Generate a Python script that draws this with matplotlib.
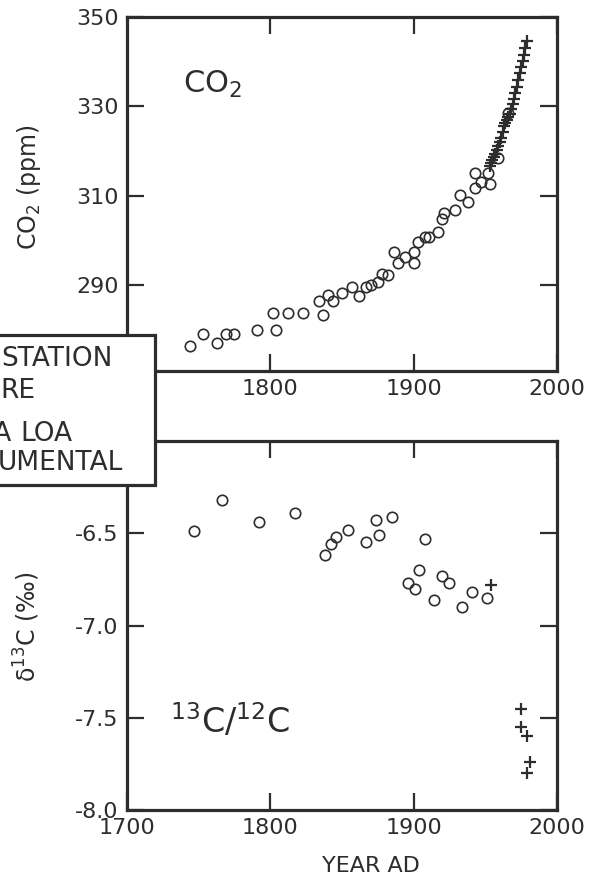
import matplotlib
matplotlib.use("Agg")
import matplotlib.pyplot as plt
from matplotlib.patches import Rectangle

# ---- data ----
# Siple Station ice core, CO2
ice_year = [1744, 1753, 1763, 1769, 1775, 1791, 1804, 1802, 1812, 1823,
            1834, 1837, 1840, 1844, 1850, 1857, 1862, 1867, 1870, 1875,
            1878, 1882, 1886, 1889, 1894, 1900, 1900, 1903, 1908, 1911,
            1917, 1920, 1921, 1929, 1932, 1938, 1943, 1943, 1947, 1952,
            1953, 1959, 1966]
ice_co2 = [276.4, 279.1, 277.0, 278.9, 279.1, 279.8, 279.8, 283.8, 283.7, 283.8,
           286.3, 283.3, 287.8, 286.3, 288.2, 289.6, 287.4, 289.6, 290.0, 290.7,
           292.4, 292.3, 297.4, 294.8, 296.3, 297.4, 294.8, 299.6, 300.7, 300.7,
           301.8, 304.8, 306.1, 306.7, 310.2, 308.5, 311.8, 315.0, 313.0, 315.0,
           312.6, 318.5, 328.5]

# Mauna Loa instrumental, CO2
ml_year = [1953, 1954, 1955, 1956, 1957, 1958, 1959, 1960, 1961, 1962,
           1963, 1964, 1965, 1966, 1967, 1968, 1969, 1970, 1971, 1972,
           1973, 1974, 1975, 1976, 1977, 1978, 1979]
ml_co2 = [316.6, 317.3, 318.0, 318.7, 319.4, 320.2, 321.0, 322.0, 323.0, 324.3,
          325.5, 326.3, 327.0, 327.7, 328.3, 329.5, 330.6, 331.6, 333.0, 334.4,
          335.9, 337.4, 338.9, 340.1, 341.4, 343.0, 344.6]

# Siple Station ice core, d13C
ice13_year = [1747, 1766, 1792, 1817, 1838, 1842, 1846, 1854, 1867, 1874,
              1876, 1885, 1908, 1896, 1901, 1904, 1914, 1920, 1925, 1934,
              1941, 1951]
ice13_d13 = [-6.49, -6.32, -6.44, -6.39, -6.62, -6.56, -6.52, -6.48, -6.55, -6.43,
             -6.51, -6.41, -6.53, -6.77, -6.80, -6.70, -6.86, -6.73, -6.77, -6.90,
             -6.82, -6.85]

# Mauna Loa, d13C
ml13_year = [1954, 1975, 1975, 1979, 1981, 1979]
ml13_d13 = [-6.78, -7.45, -7.55, -7.60, -7.74, -7.80]

# legend lines: (hidden part, visible part), the box runs off the left edge
legend_lines = [("○ SIPLE ", "STATION"),
                ("ICE CO", "RE"),
                ("+ MAUNA ", "LOA"),
                ("INSTR", "UMENTAL")]

INK = "#2d2d2d"
W, H = 595, 885

plt.rcParams["font.family"] = ["DejaVu Sans"]
plt.rcParams["mathtext.default"] = "regular"
plt.rcParams["text.color"] = INK


def fx(px):
    return px / W


def fy(py):
    return 1 - py / H


def style(ax):
    for s in ax.spines.values():
        s.set_linewidth(2.3)
        s.set_color(INK)
    ax.tick_params(direction="in", length=12, width=1.6, color=INK,
                   labelcolor=INK, labelsize=16, pad=6,
                   top=True, right=True)


fig = plt.figure(figsize=(W / 100, H / 100), dpi=100)
ax1 = fig.add_axes([fx(127), fy(371), fx(557) - fx(127), fy(17) - fy(371)])
ax2 = fig.add_axes([fx(127), fy(810), fx(557) - fx(127), fy(441) - fy(810)])

# top panel: CO2
ax1.plot(ice_year, ice_co2, "o", ms=7.5, mfc="none", mec=INK, mew=1.2)
ax1.plot(ml_year, ml_co2, "+", ms=8, mec=INK, mew=1.6)
ax1.set_xlim(1700, 2000)
ax1.set_ylim(270.7, 350)
ax1.set_xticks([1800, 1900, 2000])
ax1.set_yticks([290, 310, 330, 350])
style(ax1)
ax1.text(0.13, 0.81, "CO$_2$", transform=ax1.transAxes, fontsize=22,
         ha="left", va="center")

# bottom panel: 13C/12C
ax2.plot(ice13_year, ice13_d13, "o", ms=7.5, mfc="none", mec=INK, mew=1.2)
ax2.plot(ml13_year, ml13_d13, "+", ms=8, mec=INK, mew=1.6)
ax2.set_xlim(1700, 2000)
ax2.set_ylim(-8.0, -6.0)
ax2.set_xticks([1700, 1800, 1900, 2000])
ax2.set_yticks([-8.0, -7.5, -7.0, -6.5])
ax2.set_yticklabels(["-8.0", "-7.5", "-7.0", "-6.5"])
style(ax2)
ax2.text(0.1, 0.24, "$^{13}$C/$^{12}$C", transform=ax2.transAxes,
         fontsize=24, ha="left", va="center")

# axis titles
fig.text(fx(29), fy(187), "CO$_2$ (ppm)", rotation=90, fontsize=17,
         ha="center", va="center")
fig.text(fx(27), fy(627), "δ$^{13}$C (‰)", rotation=90, fontsize=17,
         ha="center", va="center")
fig.text(fx(371), fy(866), "YEAR AD", fontsize=16, ha="center", va="center")

# legend box, cut off at the left edge as in the original
fig.add_artist(Rectangle((fx(-60), fy(485)), fx(155) - fx(-60), fy(335) - fy(485),
                         transform=fig.transFigure, facecolor="white",
                         edgecolor=INK, linewidth=2.3, zorder=5))
for (hidden, shown), x0, y_mid in zip(legend_lines, [1, 0, 20, -2],
                                      [359, 391, 434, 463]):
    fig.text(fx(x0), fy(y_mid), hidden, fontsize=19, ha="right",
             va="center", zorder=6)
    fig.text(fx(x0), fy(y_mid), shown, fontsize=19, ha="left",
             va="center", zorder=6)

fig.savefig("out.png", dpi=100, facecolor="white")
